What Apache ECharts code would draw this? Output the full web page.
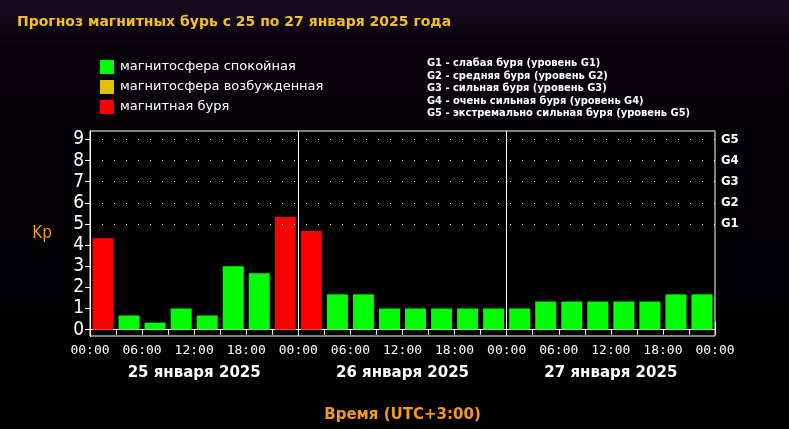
<!DOCTYPE html>
<html><head><meta charset="utf-8">
<script src="https://cdn.jsdelivr.net/npm/echarts@6/dist/echarts.min.js"></script>
<style>html,body{margin:0;background:#000}#main{width:789px;height:429px}</style>
</head><body><div id="main"></div>
<script>
// Kp по трёхчасовым интервалам, 25-27 января
var kpValues = [4.33,0.67,0.33,1,0.67,3,2.67,5.33, 4.67,1.67,1.67,1,1,1,1,1, 1,1.33,1.33,1.33,1.33,1.33,1.67,1.67];
var dayNames = ['25 января 2025','26 января 2025','27 января 2025'];
var timeLabels = ['00:00','06:00','12:00','18:00'];
var gLabels = ['G1','G2','G3','G4','G5'];

var data = kpValues.map(function(v,i){ return [i*3+1.5, v]; });
var font = 'DejaVu Sans Condensed, DejaVu Sans';

var chart = echarts.init(document.getElementById('main'));
chart.setOption({
  backgroundColor: new echarts.graphic.LinearGradient(0,0,0,1,[{offset:0,color:'#1a0b22'},{offset:0.12,color:'#060208'},{offset:1,color:'#000'}]),
  animation:false,
  title:{text:'Прогноз магнитных бурь с 25 по 27 января 2025 года',left:12,top:10,
    textStyle:{color:'#f2c21b',fontSize:14,fontWeight:'bold',fontFamily:'DejaVu Sans'}},
  grid:{left:90,right:74,top:131,bottom:93,show:true,borderColor:'#fff',borderWidth:1,backgroundColor:'#000'},
  xAxis:[{
    type:'value',min:0,max:72,interval:3,
    axisLine:{lineStyle:{color:'#fff'}},
    axisTick:{length:5,lineStyle:{color:'#fff'}},
    splitLine:{show:false},
    axisLabel:{color:'#fff',fontSize:13,fontFamily:'DejaVu Sans Mono',margin:8,
      formatter:function(v){return v%6===0?timeLabels[(v%24)/6]:'';}}
  },{
    type:'value',min:0,max:72,position:'bottom',offset:55,
    axisLine:{show:true,lineStyle:{color:'#fff'}},
    axisTick:{show:true,inside:true,length:8,customValues:[0,24,48,72],lineStyle:{color:'#fff'}},
    splitLine:{show:false},
    axisLabel:{inside:true,margin:10,customValues:[12,36,60],color:'#fff',fontSize:15,fontWeight:'bold',fontFamily:'DejaVu Sans',
      formatter:function(v){return dayNames[(v-12)/24];}},
    name:'Время (UTC+3:00)',nameLocation:'middle',nameGap:17,
    nameTextStyle:{color:'#f39a1e',fontSize:15,fontWeight:'bold',fontFamily:'DejaVu Sans'}
  }],
  yAxis:[{
    type:'value',min:-0.3,max:9.4,
    axisLine:{show:true,lineStyle:{color:'#fff'}},
    axisTick:{show:true,customValues:[0,1,2,3,4,5,6,7,8,9],lineStyle:{color:'#fff'}},
    axisLabel:{customValues:[0,1,2,3,4,5,6,7,8,9],color:'#fff',fontSize:19,fontFamily:font,margin:6},
    splitLine:{show:false},
    name:'Kp',nameLocation:'middle',nameRotate:0,nameGap:38,
    nameTextStyle:{color:'#f39a1e',fontSize:17,fontFamily:font}
  },{
    type:'value',min:-0.3,max:9.4,position:'right',
    axisLine:{show:true,lineStyle:{color:'#fff'}},
    axisTick:{show:true,inside:true,customValues:[0,1,2,3,4,5,6,7,8,9],lineStyle:{color:'#fff'}},
    axisLabel:{customValues:[5,6,7,8,9],color:'#fff',fontSize:13,fontWeight:'bold',fontFamily:font,margin:6,
      formatter:function(v){return gLabels[v-5];}},
    splitLine:{show:false}
  }],
  series:[{
    type:'bar',data:data,barWidth:21,
    itemStyle:{color:function(p){return p.value[1]>=4?'#ff0000':'#00ff00';}},
    markLine:{symbol:'none',silent:true,label:{show:false},lineStyle:{color:'#fff',type:'solid',width:1},
      data:[{xAxis:24},{xAxis:48}]}
  },{
    type:'line',data:[],markLine:{symbol:'none',silent:true,label:{show:false},
      lineStyle:{color:'#fff',type:[1,11],width:1},
      data:[5,6,7,8,9].map(function(v){return {yAxis:v};})}
  }],
  graphic:[
    {type:'rect',left:100,top:60,shape:{width:14,height:14},style:{fill:'#00ff00'}},
    {type:'rect',left:100,top:80,shape:{width:14,height:14},style:{fill:'#e0c000'}},
    {type:'rect',left:100,top:100,shape:{width:14,height:14},style:{fill:'#ff0000'}},
    {type:'text',left:120,top:60,style:{text:'магнитосфера спокойная',fill:'#fff',fontSize:13,fontFamily:'DejaVu Sans'}},
    {type:'text',left:120,top:80,style:{text:'магнитосфера возбужденная',fill:'#fff',fontSize:13,fontFamily:'DejaVu Sans'}},
    {type:'text',left:120,top:100,style:{text:'магнитная буря',fill:'#fff',fontSize:13,fontFamily:'DejaVu Sans'}},
    {type:'text',left:427,top:57,style:{fill:'#fff',fontSize:11,fontWeight:'bold',fontFamily:'DejaVu Sans Condensed',lineHeight:12.5,
      text:'G1 - слабая буря (уровень G1)\nG2 - средняя буря (уровень G2)\nG3 - сильная буря (уровень G3)\nG4 - очень сильная буря (уровень G4)\nG5 - экстремально сильная буря (уровень G5)'}}
  ]
});
</script></body></html>
